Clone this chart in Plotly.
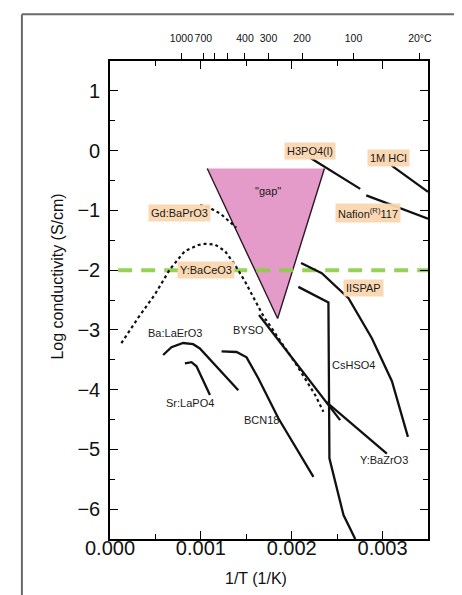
import plotly.graph_objects as go

# ---------------- data ----------------
h3po4_x = [2.202e-3, 2.754e-3]
h3po4_y = [-0.12, -0.64]

nafion_x = [2.820e-3, 3.50e-3]
nafion_y = [-0.75, -1.14]

hcl_x = [3.10e-3, 3.50e-3]
hcl_y = [-0.25, -0.69]

gd_x = [0.99e-3, 1.10e-3, 1.22e-3, 1.39e-3]
gd_y = [-0.91, -0.96, -1.06, -1.29]

ybce_x = [0.125e-3, 0.309e-3, 0.493e-3, 0.658e-3, 0.824e-3, 0.971e-3, 1.044e-3, 1.154e-3,
          1.265e-3, 1.375e-3, 1.486e-3, 1.596e-3, 1.688e-3, 1.779e-3, 2.055e-3, 2.258e-3, 2.349e-3]
ybce_y = [-3.22, -2.80, -2.41, -1.99, -1.68, -1.58, -1.56, -1.57,
          -1.68, -1.91, -2.19, -2.52, -2.77, -2.97, -3.59, -4.09, -4.37]

byso_x = [1.640e-3, 2.533e-3]
byso_y = [-2.75, -4.51]

ybzo_x = [2.382e-3, 3.047e-3]
ybzo_y = [-4.21, -5.07]

cshso4_x = [2.073e-3, 2.396e-3, 2.404e-3, 2.415e-3, 2.570e-3, 2.699e-3]
cshso4_y = [-2.28, -2.54, -2.54, -5.15, -6.10, -6.50]

iispap_x = [2.103e-3, 2.331e-3, 2.625e-3, 2.882e-3, 3.103e-3, 3.279e-3]
iispap_y = [-1.88, -2.05, -2.47, -3.14, -3.86, -4.79]

balaero_x = [0.585e-3, 0.676e-3, 0.805e-3, 0.915e-3, 0.989e-3, 1.191e-3, 1.412e-3]
balaero_y = [-3.42, -3.29, -3.22, -3.24, -3.31, -3.65, -4.01]

srlapo_x = [0.824e-3, 0.897e-3, 0.952e-3, 1.026e-3, 1.100e-3]
srlapo_y = [-3.56, -3.54, -3.61, -3.86, -4.09]

bcn18_x = [1.228e-3, 1.393e-3, 1.503e-3, 1.632e-3, 1.853e-3, 2.239e-3]
bcn18_y = [-3.36, -3.37, -3.46, -3.81, -4.48, -5.46]

gap_x = [1.07e-3, 2.36e-3, 1.845e-3, 1.07e-3]
gap_y = [-0.30, -0.30, -2.81, -0.30]

target_x = [0.09e-3, 3.5e-3]
target_y = [-2.0, -2.0]

# labels
hl_labels = ["H3PO4(l)", "1M HCl", "Gd:BaPrO3", "Nafion<sup>(R)</sup>117", "Y:BaCeO3", "IISPAP"]
hl_x = [2.202e-3, 3.066e-3, 0.768e-3, 2.845e-3, 1.062e-3, 2.79e-3]
hl_y = [0.0, -0.12, -1.04, -1.04, -2.0, -2.30]

pl_labels = ['"gap"', "Ba:LaErO3", "BYSO", "CsHSO4", "Sr:LaPO4", "BCN18", "Y:BaZrO3"]
pl_x = [1.743e-3, 0.713e-3, 1.522e-3, 2.68e-3, 0.879e-3, 1.669e-3, 3.011e-3]
pl_y = [-0.68, -3.05, -3.0, -3.59, -4.23, -4.51, -5.18]

# axes ticks
x_ticks = [0.0, 0.001, 0.002, 0.003]
x_ticktext = ["0.000", "0.001", "0.002", "0.003"]
temp_labeled = [1000, 700, 400, 300, 200, 100, 20]
temp_text = ["1000", "700", "400", "300", "200", "100", "20°C"]
temp_unlabeled = [600, 500]

# ---------------- figure ----------------
fig = go.Figure()

# gap triangle
fig.add_trace(go.Scatter(x=gap_x, y=gap_y, mode="lines", fill="toself",
                         fillcolor="rgba(218,112,178,0.70)",
                         line=dict(color="rgba(0,0,0,0)", width=0),
                         hoverinfo="skip", showlegend=False))
# triangle side edges
fig.add_trace(go.Scatter(x=[gap_x[0], gap_x[2], gap_x[1]], y=[gap_y[0], gap_y[2], gap_y[1]],
                         mode="lines", line=dict(color="#2a1a25", width=1.4),
                         hoverinfo="skip", showlegend=False))

# green target line
fig.add_trace(go.Scatter(x=target_x, y=target_y, mode="lines",
                         line=dict(color="rgba(140,205,70,0.9)", width=4, dash="14px,9px"),
                         hoverinfo="skip", showlegend=False))

solid = dict(color="#111111", width=2.3)
dotted = dict(color="#111111", width=2.2, dash="dot")

for xs, ys, ln in [
    (h3po4_x, h3po4_y, solid), (nafion_x, nafion_y, solid), (hcl_x, hcl_y, solid),
    (gd_x, gd_y, dotted), (ybce_x, ybce_y, dotted), (byso_x, byso_y, solid),
    (ybzo_x, ybzo_y, solid), (cshso4_x, cshso4_y, solid), (iispap_x, iispap_y, solid),
    (balaero_x, balaero_y, solid), (srlapo_x, srlapo_y, solid), (bcn18_x, bcn18_y, solid),
]:
    fig.add_trace(go.Scatter(x=xs, y=ys, mode="lines", line=ln,
                             hoverinfo="skip", showlegend=False))

# top temperature axes (dummy traces)
pos_labeled = [1.0 / (t + 273.15) for t in temp_labeled]
pos_unlabeled = [1.0 / (t + 273.15) for t in temp_unlabeled]
fig.add_trace(go.Scatter(x=[0.0], y=[0.0], xaxis="x2", mode="markers",
                         marker=dict(opacity=0), hoverinfo="skip", showlegend=False))
fig.add_trace(go.Scatter(x=[0.0], y=[0.0], xaxis="x3", mode="markers",
                         marker=dict(opacity=0), hoverinfo="skip", showlegend=False))

FONT = "Liberation Sans, Arial"
annotations = []
for t, x, y in zip(hl_labels, hl_x, hl_y):
    annotations.append(dict(x=x, y=y, xref="x", yref="y", text=t, showarrow=False,
                            font=dict(family=FONT, size=11, color="#1a1a1a"),
                            bgcolor="rgba(250,214,176,0.95)", borderpad=2))
for t, x, y in zip(pl_labels, pl_x, pl_y):
    annotations.append(dict(x=x, y=y, xref="x", yref="y", text=t, showarrow=False,
                            font=dict(family=FONT, size=11, color="#1a1a1a")))

annotations.append(dict(x=-0.165, y=0.548, xref="paper", yref="paper",
                        xanchor="center", yanchor="middle",
                        text="Log conductivity (S/cm)", textangle=-90, showarrow=False,
                        font=dict(family=FONT, size=16, color="#111")))
annotations.append(dict(x=0.46, y=-0.082, xref="paper", yref="paper",
                        xanchor="center", yanchor="middle",
                        text="1/T (1/K)", showarrow=False,
                        font=dict(family=FONT, size=16, color="#111")))

fig.update_layout(
    width=462, height=595,
    margin=dict(l=102, r=42, t=53, b=64),
    paper_bgcolor="white", plot_bgcolor="white",
    showlegend=False,
    annotations=annotations,
    xaxis=dict(range=[0, 0.0035], tickvals=x_ticks, ticktext=x_ticktext,
               ticks="inside", ticklen=8, tickwidth=1.4, tickcolor="black",
               minor=dict(dtick=0.0005, tick0=0, ticks="inside", ticklen=5, tickcolor="black"),
               showline=True, linecolor="black", linewidth=1.6, mirror="ticks",
               showgrid=False, zeroline=False, tickangle=0, ticklabelstandoff=-10,
               tickfont=dict(family=FONT, size=20, color="#111")),
    xaxis2=dict(overlaying="x", side="top", range=[0, 0.0035], tickvals=pos_labeled,
                ticktext=temp_text, ticks="outside", ticklen=7, tickwidth=1.3,
                tickcolor="black", showline=False, showgrid=False, zeroline=False,
                tickangle=0, ticklabelstandoff=7,
                tickfont=dict(family=FONT, size=10.5, color="#111")),
    xaxis3=dict(overlaying="x", side="top", range=[0, 0.0035], tickvals=pos_unlabeled,
                showticklabels=False, ticks="outside", ticklen=7, tickwidth=1.3,
                tickcolor="black", showline=False, showgrid=False, zeroline=False),
    yaxis=dict(range=[-6.5, 1.5], dtick=1, tick0=0,
               ticks="inside", ticklen=8, tickwidth=1.4, tickcolor="black",
               minor=dict(dtick=0.5, tick0=0, ticks="inside", ticklen=5, tickcolor="black"),
               showline=True, linecolor="black", linewidth=1.6, mirror="ticks",
               showgrid=False, zeroline=False, ticklabelstandoff=4,
               tickfont=dict(family=FONT, size=20, color="#111")),
    shapes=[
        dict(type="line", xref="paper", yref="paper", x0=-0.277, x1=1.2, y0=1.098, y1=1.098,
             line=dict(color="#6a6a6a", width=2)),
        dict(type="line", xref="paper", yref="paper", x0=-0.277, x1=-0.277, y0=1.098, y1=-0.2,
             line=dict(color="#6a6a6a", width=2)),
    ],
)

fig.write_html("out.html")
